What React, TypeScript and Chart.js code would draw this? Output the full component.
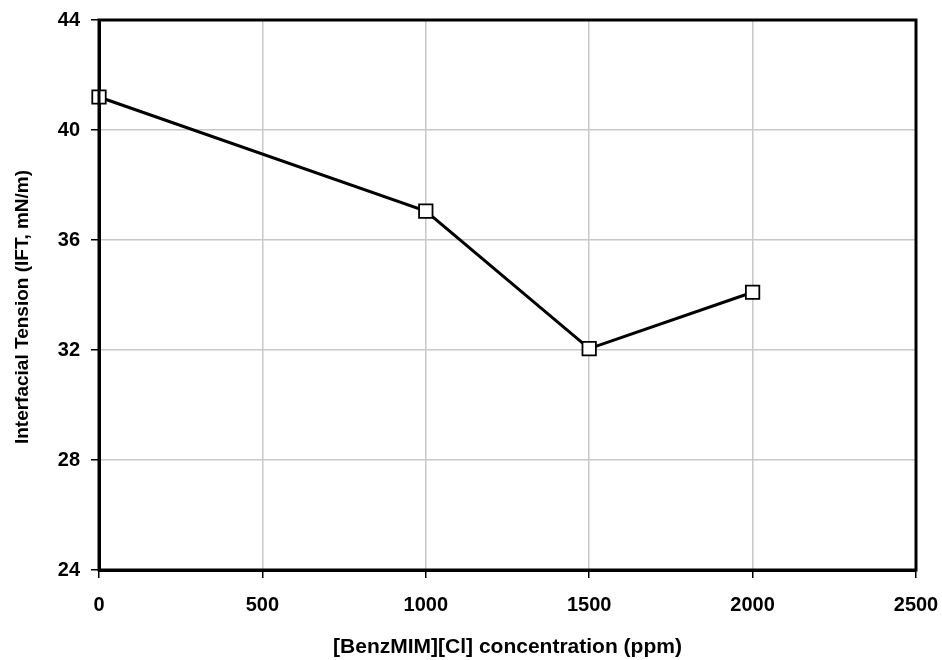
import React, { useEffect, useRef } from "react";
import { Chart, registerables } from "chart.js";

Chart.register(...registerables);

const concentrations = [0, 1000, 1500, 2000];
const iftValues = [41.2, 37.05, 32.05, 34.1];
const xTicks = [0, 500, 1000, 1500, 2000, 2500];
const yTicks = [24, 28, 32, 36, 40, 44];
const xTitle = "[BenzMIM][Cl] concentration (ppm)";
const yTitle = "Interfacial Tension (IFT, mN/m)";

const FONT = "'Liberation Sans', Arial, sans-serif";

const boxPlugin = {
  id: "boxPlugin",
  afterDatasetsDraw(chart: any) {
    const { ctx, chartArea } = chart;
    ctx.save();
    ctx.strokeStyle = "#000";
    ctx.lineWidth = 3;
    ctx.strokeRect(chartArea.left, chartArea.top, chartArea.right - chartArea.left, chartArea.bottom - chartArea.top);
    ctx.restore();
  },
  afterDraw(chart: any) {
    const { ctx, chartArea } = chart;
    ctx.save();
    ctx.fillStyle = "#000";
    ctx.font = `bold 19px ${FONT}`;
    ctx.textAlign = "center";
    ctx.textBaseline = "middle";
    ctx.translate(23, (chartArea.top + chartArea.bottom) / 2 + 12);
    ctx.rotate(-Math.PI / 2);
    ctx.fillText(yTitle, 0, 0);
    ctx.restore();
  },
};

export default function App() {
  const ref = useRef<HTMLCanvasElement | null>(null);
  useEffect(() => {
    document.body.style.margin = "0";
    const canvas = ref.current;
    if (!canvas) return;
    const chart = new Chart(canvas, {
      type: "line",
      data: {
        datasets: [
          {
            data: concentrations.map((x, i) => ({ x, y: iftValues[i] })),
            borderColor: "#000",
            borderWidth: 3,
            pointStyle: "rect",
            pointRadius: 9.5,
            pointBackgroundColor: "#fff",
            pointBorderColor: "#000",
            pointBorderWidth: 1.8,
            tension: 0,
            clip: false as any,
          },
        ],
      },
      options: {
        responsive: false,
        animation: false,
        layout: { padding: { left: 0, top: 20, right: 26, bottom: 0 } },
        plugins: { legend: { display: false }, tooltip: { enabled: false } },
        scales: {
          x: {
            type: "linear",
            min: 0,
            max: 2500,
            afterBuildTicks: (s: any) => {
              s.ticks = xTicks.map((v) => ({ value: v }));
            },
            afterFit: (s: any) => {
              s.height = 90;
              s.paddingLeft = 0;
              s.paddingRight = 0;
            },
            grid: { color: "#c8c8c8", lineWidth: 1.5, tickColor: "#000", tickLength: 8, tickWidth: 1.5 },
            border: { color: "#000", width: 3 },
            ticks: {
              color: "#000",
              font: { family: FONT, size: 20, weight: "bold" },
              padding: 15,
              maxRotation: 0,
              callback: (v: any) => String(v),
            },
            title: {
              display: true,
              text: xTitle,
              color: "#000",
              font: { family: FONT, size: 21, weight: "bold" },
              padding: { top: 1, bottom: 0 },
            },
          },
          y: {
            type: "linear",
            min: 24,
            max: 44,
            afterBuildTicks: (s: any) => {
              s.ticks = yTicks.map((v) => ({ value: v }));
            },
            afterFit: (s: any) => {
              s.width = 99;
              s.paddingTop = 0;
              s.paddingBottom = 0;
            },
            grid: { color: "#c8c8c8", lineWidth: 1.5, tickColor: "#000", tickLength: 8, tickWidth: 1.5 },
            border: { color: "#000", width: 3 },
            ticks: {
              color: "#000",
              font: { family: FONT, size: 20, weight: "bold" },
              padding: 11,
              callback: (v: any) => String(v),
            },
            title: { display: false },
          },
        },
      },
      plugins: [boxPlugin],
    });
    return () => chart.destroy();
  }, []);
  return (
    <div style={{ width: 942, height: 660, background: "#fff" }}>
      <canvas ref={ref} width={942} height={660} />
    </div>
  );
}
